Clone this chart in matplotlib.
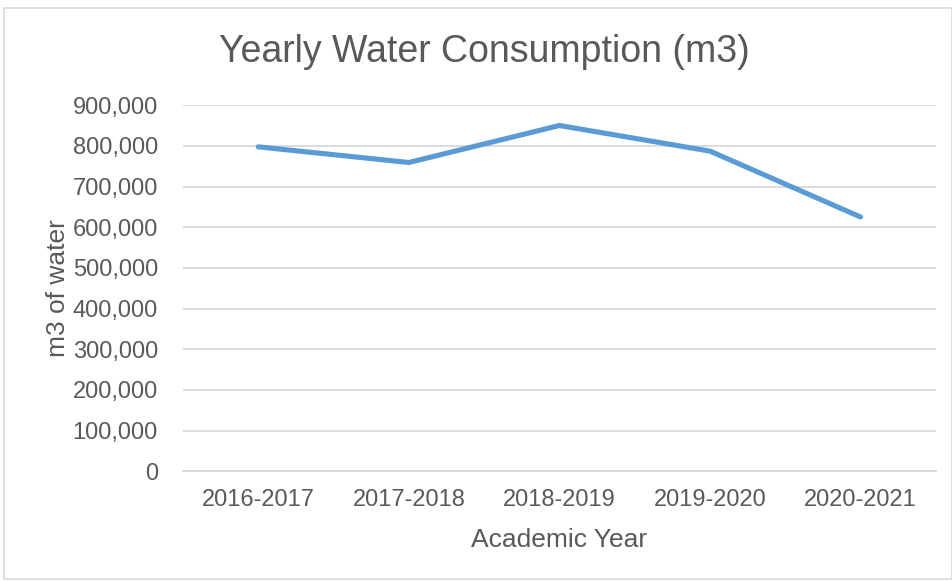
import matplotlib
matplotlib.use('Agg')
import matplotlib.pyplot as plt
from matplotlib.ticker import FuncFormatter
from matplotlib.patches import Rectangle

# Chart data
years = ['2016-2017', '2017-2018', '2018-2019', '2019-2020', '2020-2021']
water_m3 = [797500, 759000, 850000, 787000, 625000]

plt.rcParams['font.family'] = ['Liberation Sans', 'DejaVu Sans']
text_color = '#595959'

fig = plt.figure(figsize=(9.53, 5.81), dpi=100)
ax = fig.add_axes([0.192, 0.189, 0.790, 0.630])

# Line
ax.plot(range(len(years)), water_m3, color='#5B9BD5', linewidth=3.7,
        solid_capstyle='round', solid_joinstyle='round', zorder=3)

# Axes and grid
ax.set_xlim(-0.5, len(years) - 0.5)
ax.set_ylim(0, 900000)
ax.set_yticks(range(0, 900001, 100000))
ax.yaxis.set_major_formatter(FuncFormatter(lambda v, p: f'{int(v):,}'))
ax.set_xticks(range(len(years)))
ax.set_xticklabels(years)
ax.grid(axis='y', color='#D9D9D9', linewidth=1.3)
ax.set_axisbelow(True)
for side in ['top', 'right', 'left']:
    ax.spines[side].set_visible(False)
ax.spines['bottom'].set_color('#D9D9D9')
ax.spines['bottom'].set_linewidth(1.3)
ax.tick_params(axis='both', length=0, labelsize=17, colors=text_color)
ax.tick_params(axis='y', pad=18)
ax.tick_params(axis='x', pad=13)

# Labels
fig.text(0.508, 0.910, 'Yearly Water Consumption (m3)', fontsize=27,
         color=text_color, ha='center', va='center')
ax.set_xlabel('Academic Year', fontsize=19, color=text_color, labelpad=12)
ax.set_ylabel('m3 of water', fontsize=19, color=text_color)
ax.yaxis.set_label_coords(-0.15, 0.5)

# Chart border
fig.patches.append(Rectangle((0.004, 0.003), 0.995, 0.983, transform=fig.transFigure,
                             fill=False, edgecolor='#D9D9D9', linewidth=1.2))

fig.savefig('out.png', dpi=100)
